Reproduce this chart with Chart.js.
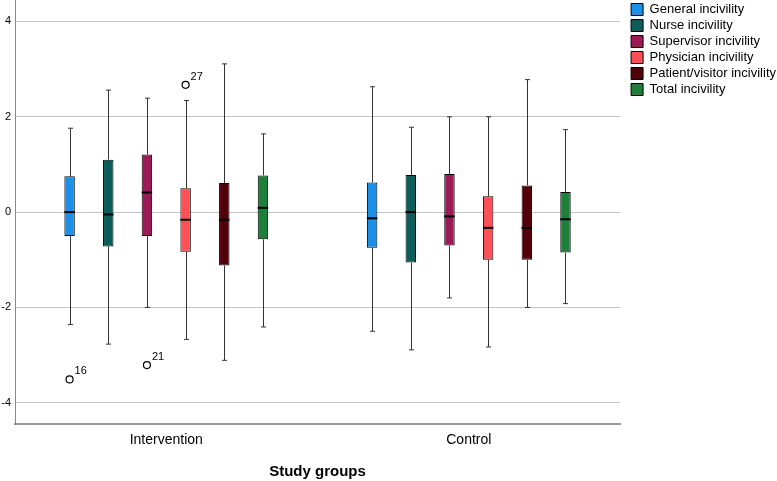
<!DOCTYPE html>
<html lang="en">
<head>
    <meta charset="UTF-8">
    <title>Incivility by study group</title>
    <script src="https://cdn.jsdelivr.net/npm/chart.js"></script>
    <style>
        body {
            margin: 0;
            background: #fff;
            font-family: 'Liberation Sans', Arial, Helvetica, sans-serif;
        }
        #wrap {
            width: 777px;
            height: 481px;
        }
    </style>
</head>
<body>
    <div id="wrap">
        <canvas id="boxChart"></canvas>
    </div>

    <script>
        const groups = ['Intervention', 'Control'];
        const seriesNames = [
            'General incivility',
            'Nurse incivility',
            'Supervisor incivility',
            'Physician incivility',
            'Patient/visitor incivility',
            'Total incivility'
        ];
        const seriesColors = ['#1C8FE6', '#0A5D59', '#9C1A56', '#FF5058', '#54000A', '#1D7F3A'];

        // one row per series, one value per group (Intervention, Control)
        const whiskerLow  = [[-2.36, -2.50], [-2.77, -2.89], [-2.00, -1.80], [-2.67, -2.83], [-3.11, -2.00], [-2.41, -1.92]];
        const q1          = [[-0.50, -0.75], [-0.72, -1.06], [-0.50, -0.70], [-0.83, -1.00], [-1.12, -1.00], [-0.57, -0.85]];
        const median      = [[ 0.00, -0.13], [-0.05,  0.00], [ 0.41, -0.09], [-0.16, -0.33], [-0.16, -0.33], [ 0.09, -0.15]];
        const q3          = [[ 0.75,  0.62], [ 1.10,  0.78], [ 1.21,  0.80], [ 0.50,  0.33], [ 0.61,  0.56], [ 0.77,  0.42]];
        const whiskerHigh = [[ 1.76,  2.63], [ 2.56,  1.78], [ 2.39,  2.00], [ 2.34,  2.00], [ 3.11,  2.78], [ 1.64,  1.73]];

        // outliers: series index, group index, value, case label
        const outlierSeries = [0, 2, 3];
        const outlierGroup  = [0, 0, 0];
        const outlierValues = [-3.51, -3.21, 2.67];
        const outlierLabels = ['16', '21', '27'];

        const yTicks = [-4, -2, 0, 2, 4];

        const FONT = "'Liberation Sans', Arial, sans-serif";

        const datasets = seriesNames.map((name, i) => ({
            label: name,
            data: groups.map((g, j) => [q1[i][j], q3[i][j]]),
            backgroundColor: seriesColors[i],
            borderColor: '#000',
            borderWidth: 1,
            borderSkipped: false,
            categoryPercentage: 0.767,
            barPercentage: 0.27
        }));

        const boxParts = {
            id: 'boxParts',
            afterLayout(chart) {
                // leave a gap between the plot and the legend, like the original
                const lg = chart.legend;
                const shift = chart.chartArea.right + 8 - lg.left;
                lg.left += shift;
                lg.right += shift;
            },
            beforeDatasetsDraw(chart) {
                const ctx = chart.ctx;
                const y = chart.scales.y;
                ctx.save();
                ctx.strokeStyle = '#333';
                ctx.lineWidth = 1;
                chart.data.datasets.forEach((ds, i) => {
                    chart.getDatasetMeta(i).data.forEach((bar, j) => {
                        const x = Math.round(bar.x) + 0.5;
                        const lo = y.getPixelForValue(whiskerLow[i][j]);
                        const hi = y.getPixelForValue(whiskerHigh[i][j]);
                        ctx.beginPath();
                        ctx.moveTo(x, y.getPixelForValue(q3[i][j]));
                        ctx.lineTo(x, hi);
                        ctx.moveTo(x, y.getPixelForValue(q1[i][j]));
                        ctx.lineTo(x, lo);
                        ctx.moveTo(x - 2.5, hi);
                        ctx.lineTo(x + 2.5, hi);
                        ctx.moveTo(x - 2.5, lo);
                        ctx.lineTo(x + 2.5, lo);
                        ctx.stroke();
                    });
                });
                ctx.restore();
            },
            afterDatasetsDraw(chart) {
                const ctx = chart.ctx;
                const y = chart.scales.y;
                ctx.save();
                ctx.strokeStyle = '#000';
                ctx.lineWidth = 2;
                chart.data.datasets.forEach((ds, i) => {
                    chart.getDatasetMeta(i).data.forEach((bar, j) => {
                        const m = y.getPixelForValue(median[i][j]);
                        ctx.beginPath();
                        ctx.moveTo(bar.x - bar.width / 2, m);
                        ctx.lineTo(bar.x + bar.width / 2, m);
                        ctx.stroke();
                    });
                });

                ctx.lineWidth = 1.2;
                ctx.fillStyle = '#000';
                ctx.font = '11px ' + FONT;
                outlierValues.forEach((v, k) => {
                    const bar = chart.getDatasetMeta(outlierSeries[k]).data[outlierGroup[k]];
                    const py = y.getPixelForValue(v);
                    ctx.beginPath();
                    ctx.arc(bar.x, py, 3.5, 0, Math.PI * 2);
                    ctx.stroke();
                    ctx.fillText(outlierLabels[k], bar.x + 5, py - 5);
                });
                ctx.restore();
            }
        };

        new Chart(document.getElementById('boxChart'), {
            type: 'bar',
            data: { labels: groups, datasets: datasets },
            plugins: [boxParts],
            options: {
                responsive: true,
                maintainAspectRatio: false,
                animation: false,
                layout: { padding: { top: 0, left: 0, right: -1, bottom: 0 } },
                plugins: {
                    tooltip: { enabled: false },
                    legend: {
                        position: 'right',
                        align: 'start',
                        labels: {
                            boxWidth: 12,
                            boxHeight: 12,
                            padding: 3,
                            color: '#000',
                            font: { family: FONT, size: 13 }
                        }
                    }
                },
                scales: {
                    x: {
                        grid: { display: false, drawTicks: false },
                        border: { display: true, color: '#999', width: 2 },
                        ticks: {
                            color: '#000',
                            padding: 8,
                            font: { family: FONT, size: 14 }
                        },
                        title: {
                            display: true,
                            text: 'Study groups',
                            color: '#000',
                            padding: { top: 6, bottom: 0 },
                            font: { family: FONT, size: 15, weight: 'bold' }
                        }
                    },
                    y: {
                        min: -4.45,
                        max: 4.45,
                        afterBuildTicks(scale) {
                            scale.ticks = yTicks.map(v => ({ value: v }));
                        },
                        afterFit(scale) {
                            scale.width = 15;
                            scale.paddingTop = 0;
                            scale.paddingBottom = 0;
                        },
                        grid: { color: '#c4c4c4', lineWidth: 1, drawTicks: false },
                        border: { display: true, color: '#888', width: 1 },
                        ticks: {
                            color: '#000',
                            padding: 4,
                            font: { family: FONT, size: 11 }
                        }
                    }
                }
            }
        });
    </script>
</body>
</html>
